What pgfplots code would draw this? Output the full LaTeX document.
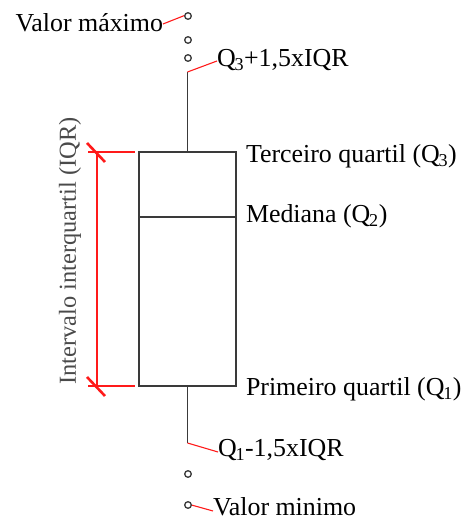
\documentclass[border=0pt]{standalone}
\usepackage{pgfplots}
\pgfplotsset{compat=1.18}
\usepgfplotslibrary{statistics}
\usepackage{fontspec}
\setmainfont{Liberation Serif}
\definecolor{boxline}{HTML}{3A3A3A}
\definecolor{annot}{HTML}{FF1A1A}
\definecolor{sidelabel}{HTML}{4A4A4A}
\tikzset{lbl/.style={font=\fontsize{26}{31}\selectfont, inner sep=0pt, outer sep=0pt}}
% tucked subscript for the quartile names
\newcommand{\Q}[1]{Q\kern-1.2pt\textsubscript{#1}}
\begin{document}
\begin{tikzpicture}
\begin{axis}[
  at={(0,0)}, anchor=south west,
  scale only axis,
  width=463bp, height=521bp,
  xmin=0, xmax=463, ymin=0, ymax=521,
  hide axis, clip=false,
]
% box and whiskers
\addplot[boxline, line width=1.3pt, solid,
  boxplot/draw direction=y,
  boxplot prepared={
    lower whisker=78, lower quartile=135, median=304,
    upper quartile=369, upper whisker=449,
    draw position=187.5, box extend=97, whisker extend=0}]
  coordinates {};
% outliers
\addplot[only marks, mark=o, mark size=3.3, boxline, line width=1.3pt]
  coordinates {(188,505) (188,481) (188,463) (188,47) (188,16)};
% red connectors
\addplot[annot, line width=1.1pt] coordinates {(163,497) (184.5,505.5)};
\addplot[annot, line width=1.1pt] coordinates {(187.5,449) (217,460)};
\addplot[annot, line width=1.1pt] coordinates {(187.5,78) (218,69)};
\addplot[annot, line width=1.1pt] coordinates {(191.5,16) (213,10)};
% interquartile bracket
\addplot[annot, line width=1.3pt] coordinates {(88,369) (135,369)};
\addplot[annot, line width=1.3pt] coordinates {(88,135) (135,135)};
\addplot[annot, line width=1.3pt] coordinates {(97,369) (97,135)};
\addplot[annot, line width=2.6pt] coordinates {(87,378) (105,359)};
\addplot[annot, line width=2.6pt] coordinates {(87,144) (105,125)};
% labels
\node[lbl, anchor=base east] at (axis cs:163,489) {Valor máximo};
\node[lbl, anchor=base west] at (axis cs:217,454) {\Q{3}+1,5xIQR};
\node[lbl, anchor=base west] at (axis cs:246,358) {Terceiro quartil (\Q{3})};
\node[lbl, anchor=base west] at (axis cs:246,298) {Mediana (\Q{2})};
\node[lbl, anchor=base west] at (axis cs:246,125) {Primeiro quartil (\Q{1})};
\node[lbl, anchor=base west] at (axis cs:218,64) {\Q{1}-1,5xIQR};
\node[lbl, anchor=base west] at (axis cs:213,6) {Valor minimo};
\node[lbl, font=\fontsize{24.5}{29}\selectfont, rotate=90, text=sidelabel] at (axis cs:70,270) {Intervalo interquartil (IQR)};
\end{axis}
\pgfresetboundingbox
\useasboundingbox (0,0) rectangle (463bp,521bp);
\end{tikzpicture}
\end{document}
